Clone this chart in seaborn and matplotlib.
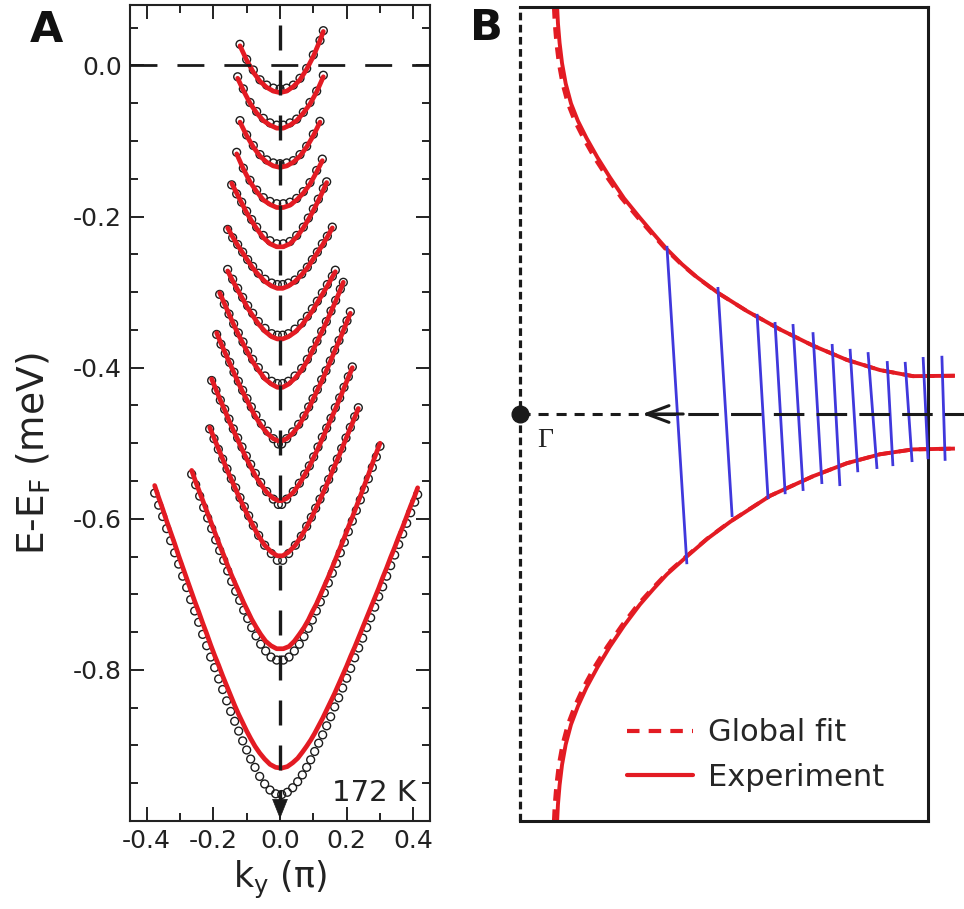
import matplotlib
matplotlib.use("Agg")
import matplotlib.pyplot as plt
from matplotlib.lines import Line2D
from matplotlib.ticker import MultipleLocator
import pandas as pd
import seaborn as sns

sns.set_theme(style="white")
plt.rcParams["font.family"] = ["DejaVu Sans"]
plt.rcParams["axes.unicode_minus"] = False
plt.rcParams["mathtext.default"] = "regular"

RED = "#e31b23"
BLUE = "#4038dc"

# ---------------- Panel A: dispersions at 172 K ----------------
# k_y (units of pi) of each measured point, top band first
band_k = [
    [-.12, -.10, -.08, -.06, -.04, -.02, 0, .02, .04, .06, .08, .10, .12, .13],
    [-.127, -.11, -.09, -.07, -.05, -.03, -.01, .01, .03, .05, .07, .09, .11, .13],
    [-.12, -.10, -.08, -.06, -.04, -.02, 0, .02, .04, .06, .08, .10, .12],
    [-.13, -.11, -.09, -.07, -.05, -.03, -.01, .01, .03, .05, .07, .09, .11, .127],
    [-.145, -.13, -.115, -.10, -.085, -.07, -.05, -.03, -.01, .01, .03, .05, .07, .085,
     .10, .115, .13, .14],
    [-.157, -.142, -.127, -.112, -.097, -.082, -.065, -.045, -.025, -.008, .008, .025,
     .045, .065, .082, .097, .112, .127, .142, .157],
    [-.157, -.142, -.127, -.112, -.097, -.082, -.065, -.045, -.025, -.008, .008, .025,
     .045, .065, .082, .097, .112, .127, .142, .157, .166],
    [-.181, -.167, -.153, -.139, -.125, -.111, -.097, -.082, -.065, -.045, -.025, -.008,
     .008, .025, .045, .065, .082, .097, .111, .125, .139, .153, .167, .181, .19],
    [-.19, -.177, -.164, -.151, -.138, -.125, -.112, -.099, -.086, -.072, -.056, -.038,
     -.02, -.005, .005, .02, .038, .056, .072, .086, .099, .112, .125, .138, .151, .164,
     .177, .19, .201, .211],
    [-.205, -.192, -.179, -.166, -.153, -.140, -.127, -.114, -.101, -.088, -.074, -.058,
     -.04, -.02, -.005, .005, .02, .04, .058, .074, .088, .101, .114, .127, .140, .153,
     .166, .179, .192, .205, .217],
    [-.211, -.198, -.185, -.172, -.159, -.146, -.133, -.120, -.107, -.094, -.080, -.064,
     -.046, -.026, -.008, .008, .026, .046, .064, .080, .094, .107, .120, .133, .146,
     .159, .172, .185, .198, .211, .224, .235],
    [-.265, -.253, -.241, -.229, -.217, -.205, -.193, -.181, -.169, -.157, -.145, -.133,
     -.121, -.109, -.097, -.085, -.072, -.058, -.043, -.027, -.01, .01, .027, .043, .058,
     .072, .085, .097, .109, .121, .133, .145, .157, .169, .181, .193, .205, .217, .229,
     .241, .253, .265, .277, .289, .30],
    [-.376, -.364, -.352, -.340, -.328, -.316, -.304, -.292, -.280, -.268, -.256, -.244,
     -.232, -.220, -.208, -.196, -.184, -.172, -.160, -.148, -.136, -.124, -.112, -.100,
     -.088, -.075, -.061, -.046, -.030, -.013, .005, .022, .038, .053, .067, .080, .092,
     .104, .116, .128, .140, .152, .164, .176, .188, .200, .212, .224, .236, .248, .260,
     .272, .284, .296, .308, .320, .332, .344, .356, .368, .380, .392, .404, .413],
]

# fitted dispersion E - E_F at the same k_y
band_fit = [
    [.026, .007, -.009, -.021, -.029, -.034, -.036, -.034, -.028, -.019, -.005, .012, .033, .045],
    [-.017, -.033, -.050, -.063, -.073, -.079, -.083, -.083, -.079, -.073, -.063, -.051, -.035, -.015],
    [-.075, -.093, -.108, -.120, -.128, -.133, -.135, -.133, -.128, -.120, -.108, -.093, -.075],
    [-.117, -.137, -.154, -.167, -.178, -.184, -.188, -.188, -.185, -.178, -.169, -.157, -.141, -.126],
    [-.156, -.169, -.182, -.195, -.206, -.216, -.228, -.236, -.240, -.240, -.236, -.227, -.215,
     -.204, -.192, -.179, -.165, -.155],
    [-.215, -.227, -.238, -.248, -.258, -.268, -.277, -.286, -.292, -.295, -.295, -.292, -.286,
     -.277, -.268, -.258, -.248, -.238, -.227, -.215],
    [-.272, -.285, -.297, -.309, -.321, -.331, -.342, -.352, -.359, -.362, -.362, -.359, -.353,
     -.344, -.334, -.325, -.314, -.303, -.292, -.280, -.273],
    [-.301, -.315, -.329, -.343, -.356, -.368, -.380, -.392, -.403, -.415, -.422, -.426,
     -.426, -.422, -.414, -.403, -.391, -.378, -.366, -.353, -.340, -.326, -.312, -.297, -.287],
    [-.354, -.368, -.381, -.394, -.407, -.420, -.432, -.443, -.455, -.466, -.477, -.487, -.494,
     -.497, -.497, -.494, -.487, -.477, -.465, -.454, -.442, -.430, -.418, -.405, -.392, -.378,
     -.365, -.351, -.339, -.328],
    [-.415, -.429, -.443, -.456, -.470, -.483, -.495, -.508, -.520, -.531, -.543, -.554, -.565,
     -.573, -.576, -.576, -.573, -.565, -.554, -.542, -.531, -.519, -.507, -.494, -.481, -.468,
     -.455, -.441, -.427, -.413, -.400],
    [-.479, -.493, -.507, -.521, -.535, -.548, -.561, -.574, -.586, -.598, -.610, -.623, -.635,
     -.644, -.649, -.649, -.644, -.635, -.623, -.611, -.599, -.587, -.575, -.562, -.549, -.535,
     -.522, -.508, -.494, -.480, -.466, -.454],
    [-.536, -.551, -.565, -.579, -.593, -.607, -.621, -.635, -.648, -.662, -.675, -.687, -.699,
     -.711, -.722, -.733, -.743, -.753, -.762, -.768, -.772, -.772, -.769, -.762, -.753, -.744,
     -.734, -.723, -.713, -.701, -.689, -.677, -.664, -.651, -.638, -.625, -.611, -.598, -.584,
     -.570, -.556, -.542, -.527, -.513, -.500],
    [-.556, -.572, -.587, -.603, -.618, -.633, -.649, -.664, -.679, -.694, -.709, -.723, -.738,
     -.752, -.767, -.781, -.794, -.808, -.821, -.834, -.847, -.859, -.870, -.881, -.891, -.901,
     -.910, -.918, -.925, -.929, -.930, -.928, -.923, -.917, -.909, -.901, -.893, -.884, -.874,
     -.864, -.853, -.842, -.831, -.819, -.807, -.795, -.782, -.770, -.757, -.744, -.731, -.718,
     -.705, -.692, -.678, -.665, -.651, -.638, -.624, -.611, -.597, -.583, -.570, -.559],
]

# measured peak positions E - E_F
band_data = [
    [.028, .008, -.006, -.019, -.026, -.030, -.031, -.030, -.026, -.017, -.004, .014, .033, .046],
    [-.015, -.031, -.049, -.061, -.070, -.076, -.079, -.079, -.076, -.071, -.062, -.049, -.034, -.013],
    [-.073, -.092, -.106, -.118, -.125, -.129, -.130, -.129, -.126, -.118, -.107, -.091, -.074],
    [-.115, -.136, -.152, -.165, -.175, -.180, -.183, -.183, -.181, -.176, -.167, -.155, -.139, -.124],
    [-.158, -.170, -.181, -.193, -.204, -.214, -.225, -.232, -.236, -.236, -.233, -.225, -.214,
     -.202, -.190, -.177, -.163, -.154],
    [-.217, -.228, -.237, -.247, -.257, -.266, -.275, -.283, -.288, -.290, -.290, -.288, -.284,
     -.276, -.267, -.257, -.247, -.236, -.226, -.214],
    [-.270, -.283, -.295, -.307, -.318, -.328, -.339, -.348, -.355, -.357, -.357, -.355, -.349,
     -.341, -.332, -.322, -.312, -.301, -.290, -.279, -.271],
    [-.303, -.316, -.329, -.342, -.354, -.366, -.378, -.389, -.400, -.411, -.418, -.421,
     -.421, -.418, -.411, -.401, -.389, -.377, -.365, -.352, -.339, -.325, -.311, -.296, -.287],
    [-.356, -.369, -.381, -.393, -.406, -.418, -.430, -.441, -.452, -.463, -.474, -.484, -.494,
     -.501, -.501, -.494, -.485, -.475, -.464, -.452, -.441, -.429, -.416, -.404, -.391, -.377,
     -.364, -.350, -.338, -.326],
    [-.417, -.430, -.443, -.455, -.468, -.481, -.493, -.505, -.517, -.528, -.540, -.552, -.564,
     -.574, -.581, -.581, -.574, -.564, -.553, -.541, -.530, -.518, -.505, -.492, -.480, -.467,
     -.453, -.440, -.426, -.412, -.399],
    [-.481, -.494, -.508, -.521, -.534, -.547, -.559, -.572, -.584, -.596, -.609, -.622, -.635,
     -.646, -.655, -.655, -.646, -.635, -.623, -.610, -.598, -.586, -.574, -.561, -.548, -.534,
     -.521, -.507, -.493, -.479, -.465, -.453],
    [-.541, -.555, -.570, -.585, -.599, -.613, -.628, -.642, -.655, -.669, -.683, -.696, -.708,
     -.721, -.732, -.744, -.755, -.766, -.775, -.783, -.787, -.787, -.783, -.775, -.766, -.756,
     -.745, -.734, -.722, -.710, -.698, -.685, -.672, -.659, -.645, -.631, -.617, -.603, -.589,
     -.575, -.561, -.547, -.532, -.518, -.504],
    [-.566, -.582, -.597, -.613, -.629, -.645, -.660, -.676, -.691, -.707, -.722, -.737, -.753,
     -.768, -.783, -.797, -.812, -.826, -.841, -.855, -.868, -.881, -.894, -.906, -.918, -.929,
     -.941, -.951, -.959, -.964, -.965, -.962, -.956, -.948, -.939, -.929, -.919, -.908, -.897,
     -.886, -.874, -.862, -.849, -.837, -.824, -.811, -.798, -.784, -.771, -.758, -.744, -.731,
     -.717, -.703, -.690, -.676, -.662, -.648, -.634, -.620, -.606, -.592, -.578, -.568],
]

x_ticks = [-0.4, -0.2, 0.0, 0.2, 0.4]
x_tick_labels = ["-0.4", "-0.2", "0.0", "0.2", "0.4"]
y_ticks = [0.0, -0.2, -0.4, -0.6, -0.8]
y_tick_labels = ["0.0", "-0.2", "-0.4", "-0.6", "-0.8"]
temperature_label = "172 K"

# ---------------- Panel B: Fermi surface and cuts ----------------
exp_up_x = [.091, .093, .097, .103, .112, .125, .142, .163, .190, .220, .255, .294, .327,
            .360, .397, .434, .485, .556, .637, .718, .801, .882, .963, 1.066]
exp_up_y = [1.0, .96, .912, .862, .812, .763, .720, .678, .630, .582, .530, .482, .443,
            .405, .368, .336, .298, .253, .208, .168, .133, .108, .093, .094]
exp_lo_x = [.091, .093, .097, .103, .112, .125, .142, .163, .190, .220, .255, .294, .327,
            .360, .409, .460, .515, .613, .718, .801, .882, .963, 1.066]
exp_lo_y = [-1.0, -.96, -.912, -.862, -.812, -.763, -.718, -.672, -.622, -.572, -.520,
            -.468, -.430, -.394, -.350, -.306, -.265, -.201, -.153, -.121, -.099, -.087,
            -.085]
fit_up_x = [.083, .085, .089, .095, .104, .117, .134, .155, .182, .213, .249, .289, .323,
            .357, .395, .433, .484, .556, .637, .718, .801, .882, .963, 1.066]
fit_up_y = exp_up_y
fit_lo_x = [.083, .085, .089, .095, .104, .117, .134, .155, .182, .213, .249, .289, .323,
            .357, .407, .459, .514, .613, .718, .801, .882, .963, 1.066]
fit_lo_y = exp_lo_y

cut_top_x = [.360, .485, .581, .625, .669, .718, .765, .809, .853, .900, .944, .988, 1.034]
cut_top_y = [.413, .312, .246, .226, .221, .201, .172, .160, .152, .130, .128, .140, .143]
cut_bot_x = [.409, .520, .608, .650, .694, .740, .784, .828, .875, .914, .961, 1.0, 1.042]
cut_bot_y = [-.369, -.253, -.209, -.197, -.189, -.172, -.177, -.143, -.135, -.128, -.118,
             -.111, -.115]
legend_labels = ["Global fit", "Experiment"]

# ---------------- tables ----------------
rows = []
for b, (ks, fs, ds) in enumerate(zip(band_k, band_fit, band_data)):
    for k, f, d in zip(ks, fs, ds):
        rows.append((b, k, f, d))
df_a = pd.DataFrame(rows, columns=["band", "k", "fit", "data"])

cut_rows = []
for c in range(len(cut_top_x)):
    cut_rows.append((c, cut_top_x[c], cut_top_y[c]))
    cut_rows.append((c, cut_bot_x[c], cut_bot_y[c]))
df_cut = pd.DataFrame(cut_rows, columns=["cut", "x", "y"])

# ---------------- figure ----------------
W, H = 964, 909
fig = plt.figure(figsize=(W / 100, H / 100), dpi=100)
ax_a = fig.add_axes([130 / W, 1 - 821 / H, 300 / W, 816 / H])
ax_b = fig.add_axes([520 / W, 1 - 821 / H, 408 / W, 814 / H])

# ---- panel A ----
sns.scatterplot(data=df_a, x="k", y="data", ax=ax_a, marker="o", s=32,
                facecolors="none", edgecolors="#1c1c1c", linewidth=1.0,
                zorder=2, legend=False)
for coll in ax_a.collections:
    coll.set_facecolor("none")
    coll.set_edgecolor("#1c1c1c")
sns.lineplot(data=df_a, x="k", y="fit", units="band", estimator=None, sort=False,
             ax=ax_a, color=RED, lw=3.4, zorder=3, legend=False)

ax_a.axhline(0.0, color="k", lw=2.0, ls=(0, (9.7, 7.2)), zorder=4)
ax_a.plot([0, 0], [0.053, -0.975], color="k", lw=2.4, ls=(0, (7.5, 6)), zorder=4)
ax_a.annotate("", xy=(0, -0.997), xytext=(0, -0.972),
              arrowprops=dict(arrowstyle="-|>,head_length=0.95,head_width=0.38",
                              color="k", lw=0.5, mutation_scale=14,
                              shrinkA=0, shrinkB=0), zorder=5)

ax_a.set_xlim(-0.45, 0.45)
ax_a.set_ylim(-1.0, 0.08)
ax_a.set_xticks(x_ticks)
ax_a.set_xticklabels(x_tick_labels)
ax_a.set_yticks(y_ticks)
ax_a.set_yticklabels(y_tick_labels)
ax_a.xaxis.set_minor_locator(MultipleLocator(0.1))
ax_a.yaxis.set_minor_locator(MultipleLocator(0.05))
ax_a.tick_params(which="both", direction="in", top=True, right=True, bottom=True,
                 left=True, width=1.4, color="#222222")
ax_a.tick_params(which="major", length=10, labelsize=18, pad=6, labelcolor="#222222")
ax_a.tick_params(which="minor", length=6)
for sp in ax_a.spines.values():
    sp.set_linewidth(1.5)
    sp.set_color("#222222")
ax_a.set_xlabel("k$_{y}$ (π)", fontsize=25, color="#222222")
ax_a.set_ylabel("E-E$_{F}$ (meV)", fontsize=27, color="#222222")
ax_a.xaxis.set_label_coords(0.5, -0.047)
ax_a.yaxis.set_label_coords(-0.257, 0.45)
ax_a.text(0.407, -0.973, temperature_label, ha="right", va="baseline", fontsize=21,
          color="#222222")

# ---- panel B ----
sns.lineplot(x=fit_up_x, y=fit_up_y, sort=False, estimator=None, ax=ax_b, color=RED,
             lw=2.8, ls=(0, (3, 2.2)), zorder=2)
sns.lineplot(x=fit_lo_x, y=fit_lo_y, sort=False, estimator=None, ax=ax_b, color=RED,
             lw=2.8, ls=(0, (3, 2.2)), zorder=2)
sns.lineplot(x=exp_up_x, y=exp_up_y, sort=False, estimator=None, ax=ax_b, color=RED,
             lw=2.8, zorder=2)
sns.lineplot(x=exp_lo_x, y=exp_lo_y, sort=False, estimator=None, ax=ax_b, color=RED,
             lw=2.8, zorder=2)
sns.lineplot(data=df_cut, x="x", y="y", units="cut", estimator=None, sort=False,
             ax=ax_b, color=BLUE, lw=2.0, zorder=3, legend=False)
for ln in ax_b.lines:
    ln.set_clip_on(False)
    ln.set_solid_capstyle("butt")

ax_b.plot([0, 0], [-1, 1], color="k", lw=2.3, ls=(0, (2.4, 1.4)), clip_on=False, zorder=4)
ax_b.plot([0, 0.306], [0, 0], color="k", lw=2.2, ls=(0, (3.3, 2.6)), zorder=4)
ax_b.plot([0.306, 1.088], [0, 0], color="k", lw=2.2, ls=(0, (10, 4)), clip_on=False,
          zorder=4)
ax_b.annotate("", xy=(0.300, 0), xytext=(0.40, 0),
              arrowprops=dict(arrowstyle="->,head_length=0.8,head_width=0.3", lw=2.2,
                              color="k", mutation_scale=20, shrinkA=0, shrinkB=0),
              zorder=5)
ax_b.plot([0], [0], "o", ms=12, color="k", clip_on=False, zorder=6)
ax_b.text(0.061, -0.064, "Γ", ha="center", va="center", fontsize=20,
          family=["Liberation Serif", "DejaVu Serif"], color="#222222")

ax_b.set_xlim(0, 1)
ax_b.set_ylim(-1, 1)
ax_b.set_xticks([])
ax_b.set_yticks([])
ax_b.set_xlabel("")
ax_b.set_ylabel("")
ax_b.spines["left"].set_visible(False)
for side in ("top", "right", "bottom"):
    ax_b.spines[side].set_linewidth(2.2)
    ax_b.spines[side].set_color("k")

handles = [Line2D([], [], color=RED, lw=3, ls=(0, (3, 2.2))),
           Line2D([], [], color=RED, lw=3)]
ax_b.legend(handles, legend_labels, loc="upper left", bbox_to_anchor=(0.262, 0.126),
            frameon=False, fontsize=22, handlelength=2.15, handletextpad=0.5,
            labelspacing=0.5, borderpad=0, borderaxespad=0)

fig.text(30 / W, 1 - 42 / H, "A", fontsize=31, fontweight="bold", ha="left",
         va="baseline", color="#111111")
fig.text(470 / W, 1 - 40 / H, "B", fontsize=31, fontweight="bold", ha="left",
         va="baseline", color="#111111")

fig.savefig("out.png", dpi=100)
